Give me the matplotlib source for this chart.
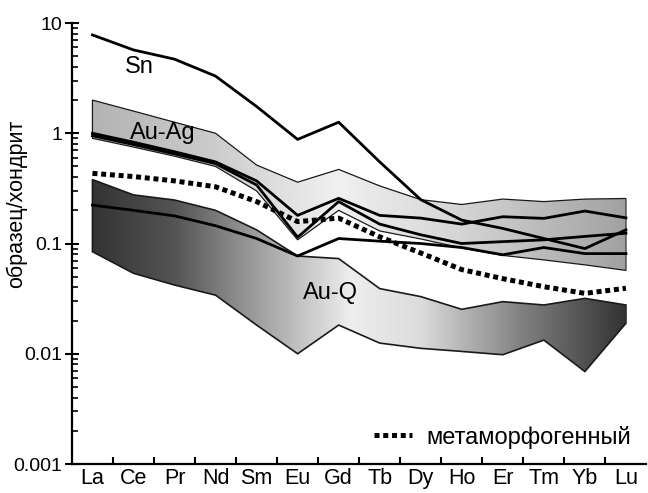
import matplotlib

matplotlib.use("Agg")
import matplotlib.pyplot as plt
import numpy as np
from matplotlib.patches import Polygon

plt.rcParams["font.family"] = ["Liberation Sans", "DejaVu Sans"]

elements = ["La", "Ce", "Pr", "Nd", "Sm", "Eu", "Gd", "Tb", "Dy", "Ho", "Er", "Tm", "Yb", "Lu"]

sn = [7.8, 5.7, 4.7, 3.3, 1.75, 0.88, 1.26, 0.55, 0.25, 0.163, 0.137, 0.111, 0.090, 0.133]

auag_top = [2.0, 1.59, 1.26, 1.0, 0.515, 0.36, 0.47, 0.333, 0.25, 0.226, 0.253, 0.24, 0.253, 0.256]
auag_bot = [0.90, 0.75, 0.62, 0.50, 0.30, 0.108, 0.20, 0.13, 0.11, 0.091, 0.078, 0.071, 0.064, 0.057]
auag_1 = [1.0, 0.83, 0.68, 0.55, 0.37, 0.18, 0.257, 0.18, 0.17, 0.15, 0.175, 0.169, 0.197, 0.171]
auag_2 = [0.95, 0.79, 0.65, 0.53, 0.34, 0.114, 0.24, 0.15, 0.12, 0.10, 0.104, 0.108, 0.116, 0.124]

auq_top = [0.38, 0.276, 0.248, 0.20, 0.133, 0.077, 0.073, 0.039, 0.033, 0.0253, 0.0297, 0.0277, 0.0318, 0.0277]
auq_bot = [0.0843, 0.0537, 0.042, 0.034, 0.0182, 0.0100, 0.0182, 0.0125, 0.0112, 0.0105, 0.0098, 0.0133, 0.0069, 0.0189]
auq_1 = [0.223, 0.20, 0.178, 0.145, 0.111, 0.077, 0.111, 0.105, 0.10, 0.092, 0.079, 0.092, 0.081, 0.081]

metamorph = [0.433, 0.405, 0.37, 0.327, 0.24, 0.158, 0.17, 0.115, 0.082, 0.058, 0.048, 0.0406, 0.0353, 0.0393]


def gradient_band(ax, x, top, bot, stops, levels, edge_lw):
    xs = np.concatenate([x, x[::-1]])
    ys = np.concatenate([top, bot[::-1]])
    poly = Polygon(np.column_stack([xs, ys]), closed=True, facecolor="none",
                   edgecolor="#1a1a1a", lw=edge_lw, zorder=3)
    ax.add_patch(poly)
    gx = np.linspace(x[0], x[-1], 400)
    grad = np.interp(gx, stops, levels)[None, :]
    im = ax.imshow(grad, extent=[x[0], x[-1], 0.001, 10], aspect="auto",
                   cmap="gray", vmin=0, vmax=1, zorder=2, interpolation="bilinear")
    im.set_clip_path(poly)


x = np.arange(len(elements))

fig = plt.figure(figsize=(6.48, 4.93), dpi=100)
ax = fig.add_axes([0.111, 0.0588, 0.8866, 0.8945])
ax.set_yscale("log")

gradient_band(ax, x, np.array(auag_top), np.array(auag_bot),
              [0, 3, 6, 9, 13], [0.70, 0.80, 0.94, 0.83, 0.63], 0.9)
gradient_band(ax, x, np.array(auq_top), np.array(auq_bot),
              [0, 2, 4, 6.3, 8, 10.5, 13], [0.2, 0.33, 0.62, 0.93, 0.86, 0.5, 0.2], 1.2)

ax.plot(x, sn, color="black", lw=2.0, zorder=5)
ax.plot(x, auag_1, color="black", lw=2.0, zorder=5)
ax.plot(x, auag_2, color="black", lw=2.0, zorder=5)
ax.plot(x, auq_1, color="black", lw=2.0, zorder=5)
ax.plot(x, metamorph, color="black", lw=3.6, linestyle=(0, (1.0, 0.75)),
        dash_capstyle="butt", zorder=6, label="метаморфогенный")

ax.text(1.15, 4.0, "Sn", fontsize=17, ha="center", va="center", zorder=7)
ax.text(1.72, 1.0, "Au-Ag", fontsize=17, ha="center", va="center", zorder=7)
ax.text(5.8, 0.0356, "Au-Q", fontsize=17, ha="center", va="center", zorder=7)

ax.set_xlim(-0.5, 13.5)
ax.set_ylim(0.001, 10)
ax.set_yticks([0.001, 0.01, 0.1, 1, 10])
ax.set_yticklabels(["0.001", "0.01", "0.1", "1", "10"], fontsize=14)
ax.set_xticks(np.arange(0.5, 13.5, 1.0))
ax.set_xticklabels([])
ax.set_xticks(x, minor=True)
ax.set_xticklabels(elements, minor=True, fontsize=15.5)
ax.tick_params(axis="x", which="major", direction="in", length=5, width=1.5)
ax.tick_params(axis="x", which="minor", length=0, pad=3)
ax.tick_params(axis="y", which="major", direction="inout", length=10, width=1.5, pad=2)
ax.tick_params(axis="y", which="minor", direction="in", length=4, width=1.2)

for side in ["top", "right"]:
    ax.spines[side].set_visible(False)
for side in ["left", "bottom"]:
    ax.spines[side].set_linewidth(1.6)

ax.set_ylabel("образец/хондрит", fontsize=15.5)
ax.yaxis.set_label_coords(-0.078, 0.59)
ax.legend(loc="lower right", bbox_to_anchor=(1.0, 0.0), frameon=False, fontsize=17,
          handlelength=1.6, handletextpad=0.6, borderaxespad=0.25)

fig.savefig("out.png", dpi=100)
